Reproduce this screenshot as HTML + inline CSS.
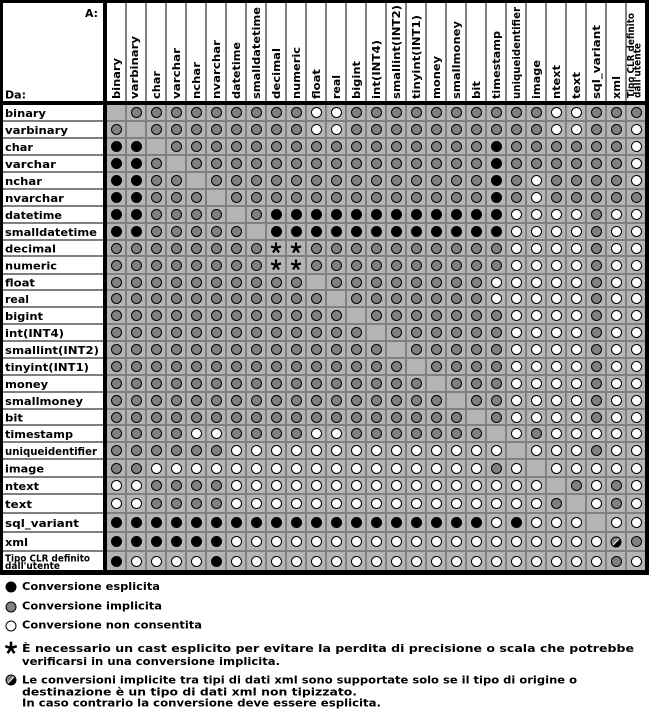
<!DOCTYPE html>
<html><head><meta charset="utf-8">
<style>
html,body{margin:0;padding:0;background:#fff;}
#p{position:relative;width:649px;height:710px;overflow:hidden;background:#fff;}
.k{position:absolute;background:#000;}
.hl{position:absolute;top:3px;width:2px;height:98px;background:#808080;}
#g{position:absolute;left:3px;top:105px;width:642px;height:465px;background:#808080;}
.r{position:absolute;left:0;width:642px;display:flex;}
.r>*{flex:none;width:18px;height:100%;background:#b4b4b4;margin-right:2px;display:flex;align-items:center;justify-content:center;text-decoration:none;font-style:normal;}
.r>:last-child{margin-right:0;}
.r>em{width:100px;background:#fff;margin-right:0;}
.r>tt{width:4px;background:#000;margin-right:0;}
.r>i::after,.r>b::after,.r>s::after{content:"";display:block;width:11px;height:11px;box-sizing:border-box;border:1px solid #000;border-radius:50%;}
.r>i::after{background:#808080;}
.r>b::after{background:#000;}
.r>s::after{background:#fff;}
svg text{font-family:"DejaVu Sans","Liberation Sans",sans-serif;font-weight:bold;font-size:11px;fill:#000;}
</style></head><body>
<div id="p">
<svg width="0" height="0" style="position:absolute;left:0;top:0">
<defs>
<g id="st"><path d="M0,0V-5.5M0,0L5,-1.6M0,0L3,4.5M0,0L-3,4.5M0,0L-5,-1.6" stroke="#000" stroke-width="2.2" fill="none"/><circle r="1.8" fill="#000"/></g>
<g id="hf"><circle r="5" fill="#808080"/><path d="M3.54,-3.54A5,5 0 0 1 -3.54,3.54Z" fill="#000"/><path d="M-3.6,3.6L3.6,-3.6" stroke="#fff" stroke-width="1"/><circle r="5" fill="none" stroke="#000" stroke-width="1"/></g>
</defs>
</svg>

<div class="hl" style="left:125px"></div><div class="hl" style="left:145px"></div><div class="hl" style="left:165px"></div><div class="hl" style="left:185px"></div><div class="hl" style="left:205px"></div><div class="hl" style="left:225px"></div><div class="hl" style="left:245px"></div><div class="hl" style="left:265px"></div><div class="hl" style="left:285px"></div><div class="hl" style="left:305px"></div><div class="hl" style="left:325px"></div><div class="hl" style="left:345px"></div><div class="hl" style="left:365px"></div><div class="hl" style="left:385px"></div><div class="hl" style="left:405px"></div><div class="hl" style="left:425px"></div><div class="hl" style="left:445px"></div><div class="hl" style="left:465px"></div><div class="hl" style="left:485px"></div><div class="hl" style="left:505px"></div><div class="hl" style="left:525px"></div><div class="hl" style="left:545px"></div><div class="hl" style="left:565px"></div><div class="hl" style="left:585px"></div><div class="hl" style="left:605px"></div><div class="hl" style="left:625px"></div>

<div id="g">
<div class="r" style="top:0px;height:15px"><em></em><tt></tt><u></u><i></i><i></i><i></i><i></i><i></i><i></i><i></i><i></i><i></i><s></s><s></s><i></i><i></i><i></i><i></i><i></i><i></i><i></i><i></i><i></i><i></i><s></s><s></s><i></i><i></i><i></i></div>
<div class="r" style="top:17px;height:15px"><em></em><tt></tt><i></i><u></u><i></i><i></i><i></i><i></i><i></i><i></i><i></i><i></i><s></s><s></s><i></i><i></i><i></i><i></i><i></i><i></i><i></i><i></i><i></i><i></i><s></s><s></s><i></i><i></i><s></s></div>
<div class="r" style="top:34px;height:15px"><em></em><tt></tt><b></b><b></b><u></u><i></i><i></i><i></i><i></i><i></i><i></i><i></i><i></i><i></i><i></i><i></i><i></i><i></i><i></i><i></i><i></i><b></b><i></i><i></i><i></i><i></i><i></i><i></i><s></s></div>
<div class="r" style="top:51px;height:15px"><em></em><tt></tt><b></b><b></b><i></i><u></u><i></i><i></i><i></i><i></i><i></i><i></i><i></i><i></i><i></i><i></i><i></i><i></i><i></i><i></i><i></i><b></b><i></i><i></i><i></i><i></i><i></i><i></i><s></s></div>
<div class="r" style="top:68px;height:15px"><em></em><tt></tt><b></b><b></b><i></i><i></i><u></u><i></i><i></i><i></i><i></i><i></i><i></i><i></i><i></i><i></i><i></i><i></i><i></i><i></i><i></i><b></b><i></i><s></s><i></i><i></i><i></i><i></i><s></s></div>
<div class="r" style="top:85px;height:15px"><em></em><tt></tt><b></b><b></b><i></i><i></i><i></i><u></u><i></i><i></i><i></i><i></i><i></i><i></i><i></i><i></i><i></i><i></i><i></i><i></i><i></i><b></b><i></i><s></s><i></i><i></i><i></i><i></i><i></i></div>
<div class="r" style="top:102px;height:15px"><em></em><tt></tt><b></b><b></b><i></i><i></i><i></i><i></i><u></u><i></i><b></b><b></b><b></b><b></b><b></b><b></b><b></b><b></b><b></b><b></b><b></b><b></b><s></s><s></s><s></s><s></s><i></i><s></s><s></s></div>
<div class="r" style="top:119px;height:15px"><em></em><tt></tt><b></b><b></b><i></i><i></i><i></i><i></i><i></i><u></u><b></b><b></b><b></b><b></b><b></b><b></b><b></b><b></b><b></b><b></b><b></b><b></b><s></s><s></s><s></s><s></s><i></i><s></s><s></s></div>
<div class="r" style="top:136px;height:14px"><em></em><tt></tt><i></i><i></i><i></i><i></i><i></i><i></i><i></i><i></i><u><svg width="12" height="12" viewBox="-6 -6 12 12"><use href="#st"/></svg></u><u><svg width="12" height="12" viewBox="-6 -6 12 12"><use href="#st"/></svg></u><i></i><i></i><i></i><i></i><i></i><i></i><i></i><i></i><i></i><i></i><s></s><s></s><s></s><s></s><i></i><s></s><s></s></div>
<div class="r" style="top:152px;height:16px"><em></em><tt></tt><i></i><i></i><i></i><i></i><i></i><i></i><i></i><i></i><u><svg width="12" height="12" viewBox="-6 -6 12 12"><use href="#st"/></svg></u><u><svg width="12" height="12" viewBox="-6 -6 12 12"><use href="#st"/></svg></u><i></i><i></i><i></i><i></i><i></i><i></i><i></i><i></i><i></i><i></i><s></s><s></s><s></s><s></s><i></i><s></s><s></s></div>
<div class="r" style="top:170px;height:14px"><em></em><tt></tt><i></i><i></i><i></i><i></i><i></i><i></i><i></i><i></i><i></i><i></i><u></u><i></i><i></i><i></i><i></i><i></i><i></i><i></i><i></i><s></s><s></s><s></s><s></s><s></s><i></i><s></s><s></s></div>
<div class="r" style="top:186px;height:15px"><em></em><tt></tt><i></i><i></i><i></i><i></i><i></i><i></i><i></i><i></i><i></i><i></i><i></i><u></u><i></i><i></i><i></i><i></i><i></i><i></i><i></i><s></s><s></s><s></s><s></s><s></s><i></i><s></s><s></s></div>
<div class="r" style="top:203px;height:15px"><em></em><tt></tt><i></i><i></i><i></i><i></i><i></i><i></i><i></i><i></i><i></i><i></i><i></i><i></i><u></u><i></i><i></i><i></i><i></i><i></i><i></i><i></i><s></s><s></s><s></s><s></s><i></i><s></s><s></s></div>
<div class="r" style="top:220px;height:15px"><em></em><tt></tt><i></i><i></i><i></i><i></i><i></i><i></i><i></i><i></i><i></i><i></i><i></i><i></i><i></i><u></u><i></i><i></i><i></i><i></i><i></i><i></i><s></s><s></s><s></s><s></s><i></i><s></s><s></s></div>
<div class="r" style="top:237px;height:15px"><em></em><tt></tt><i></i><i></i><i></i><i></i><i></i><i></i><i></i><i></i><i></i><i></i><i></i><i></i><i></i><i></i><u></u><i></i><i></i><i></i><i></i><i></i><s></s><s></s><s></s><s></s><i></i><s></s><s></s></div>
<div class="r" style="top:254px;height:15px"><em></em><tt></tt><i></i><i></i><i></i><i></i><i></i><i></i><i></i><i></i><i></i><i></i><i></i><i></i><i></i><i></i><i></i><u></u><i></i><i></i><i></i><i></i><s></s><s></s><s></s><s></s><i></i><s></s><s></s></div>
<div class="r" style="top:271px;height:15px"><em></em><tt></tt><i></i><i></i><i></i><i></i><i></i><i></i><i></i><i></i><i></i><i></i><i></i><i></i><i></i><i></i><i></i><i></i><u></u><i></i><i></i><i></i><s></s><s></s><s></s><s></s><i></i><s></s><s></s></div>
<div class="r" style="top:288px;height:15px"><em></em><tt></tt><i></i><i></i><i></i><i></i><i></i><i></i><i></i><i></i><i></i><i></i><i></i><i></i><i></i><i></i><i></i><i></i><i></i><u></u><i></i><i></i><s></s><s></s><s></s><s></s><i></i><s></s><s></s></div>
<div class="r" style="top:305px;height:14px"><em></em><tt></tt><i></i><i></i><i></i><i></i><i></i><i></i><i></i><i></i><i></i><i></i><i></i><i></i><i></i><i></i><i></i><i></i><i></i><i></i><u></u><i></i><s></s><s></s><s></s><s></s><i></i><s></s><s></s></div>
<div class="r" style="top:321px;height:15px"><em></em><tt></tt><i></i><i></i><i></i><i></i><s></s><s></s><i></i><i></i><i></i><i></i><s></s><s></s><i></i><i></i><i></i><i></i><i></i><i></i><i></i><u></u><s></s><i></i><s></s><s></s><s></s><s></s><s></s></div>
<div class="r" style="top:338px;height:15px"><em></em><tt></tt><i></i><i></i><i></i><i></i><i></i><i></i><s></s><s></s><s></s><s></s><s></s><s></s><s></s><s></s><s></s><s></s><s></s><s></s><s></s><s></s><u></u><s></s><s></s><s></s><i></i><s></s><s></s></div>
<div class="r" style="top:355px;height:16px"><em></em><tt></tt><i></i><i></i><s></s><s></s><s></s><s></s><s></s><s></s><s></s><s></s><s></s><s></s><s></s><s></s><s></s><s></s><s></s><s></s><s></s><i></i><s></s><u></u><s></s><s></s><s></s><s></s><s></s></div>
<div class="r" style="top:373px;height:15px"><em></em><tt></tt><s></s><s></s><i></i><i></i><i></i><i></i><s></s><s></s><s></s><s></s><s></s><s></s><s></s><s></s><s></s><s></s><s></s><s></s><s></s><s></s><s></s><s></s><u></u><i></i><s></s><i></i><s></s></div>
<div class="r" style="top:390px;height:17px"><em></em><tt></tt><s></s><s></s><i></i><i></i><i></i><i></i><s></s><s></s><s></s><s></s><s></s><s></s><s></s><s></s><s></s><s></s><s></s><s></s><s></s><s></s><s></s><s></s><i></i><u></u><s></s><i></i><s></s></div>
<div class="r" style="top:409px;height:17px"><em></em><tt></tt><b></b><b></b><b></b><b></b><b></b><b></b><b></b><b></b><b></b><b></b><b></b><b></b><b></b><b></b><b></b><b></b><b></b><b></b><b></b><s></s><b></b><s></s><s></s><s></s><u></u><s></s><s></s></div>
<div class="r" style="top:428px;height:17px"><em></em><tt></tt><b></b><b></b><b></b><b></b><b></b><b></b><s></s><s></s><s></s><s></s><s></s><s></s><s></s><s></s><s></s><s></s><s></s><s></s><s></s><s></s><s></s><s></s><s></s><s></s><s></s><u><svg width="12" height="12" viewBox="-6 -6 12 12"><use href="#hf"/></svg></u><i></i></div>
<div class="r" style="top:447px;height:18px"><em></em><tt></tt><b></b><s></s><s></s><s></s><s></s><b></b><s></s><s></s><s></s><s></s><s></s><s></s><s></s><s></s><s></s><s></s><s></s><s></s><s></s><s></s><s></s><s></s><s></s><s></s><s></s><i></i><s></s></div>
</div>

<div class="k" style="left:0;top:0;width:649px;height:3px"></div>
<div class="k" style="left:0;top:0;width:3px;height:575px"></div>
<div class="k" style="left:645px;top:0;width:4px;height:575px"></div>
<div class="k" style="left:0;top:570px;width:649px;height:5px"></div>
<div class="k" style="left:103px;top:0;width:4px;height:575px"></div>
<div class="k" style="left:0;top:101px;width:649px;height:4px"></div>

<svg width="649" height="710" style="position:absolute;left:0;top:0">
<text x="85" y="17" textLength="13" lengthAdjust="spacingAndGlyphs">A:</text>
<text x="5" y="98.5" textLength="21" lengthAdjust="spacingAndGlyphs">Da:</text>

<g lengthAdjust="spacingAndGlyphs">
<text transform="translate(120,99) rotate(-90)" textLength="41" lengthAdjust="spacingAndGlyphs">binary</text>
<text transform="translate(138,99) rotate(-90)" textLength="63" lengthAdjust="spacingAndGlyphs">varbinary</text>
<text transform="translate(160,99) rotate(-90)" textLength="28" lengthAdjust="spacingAndGlyphs">char</text>
<text transform="translate(180,99) rotate(-90)" textLength="51" lengthAdjust="spacingAndGlyphs">varchar</text>
<text transform="translate(200,99) rotate(-90)" textLength="37" lengthAdjust="spacingAndGlyphs">nchar</text>
<text transform="translate(220,99) rotate(-90)" textLength="59" lengthAdjust="spacingAndGlyphs">nvarchar</text>
<text transform="translate(240,99) rotate(-90)" textLength="57" lengthAdjust="spacingAndGlyphs">datetime</text>
<text transform="translate(260,99) rotate(-90)" textLength="92" lengthAdjust="spacingAndGlyphs">smalldatetime</text>
<text transform="translate(280,99) rotate(-90)" textLength="51" lengthAdjust="spacingAndGlyphs">decimal</text>
<text transform="translate(300,99) rotate(-90)" textLength="52" lengthAdjust="spacingAndGlyphs">numeric</text>
<text transform="translate(320,99) rotate(-90)" textLength="30" lengthAdjust="spacingAndGlyphs">float</text>
<text transform="translate(340,99) rotate(-90)" textLength="24" lengthAdjust="spacingAndGlyphs">real</text>
<text transform="translate(360,99) rotate(-90)" textLength="38" lengthAdjust="spacingAndGlyphs">bigint</text>
<text transform="translate(380,99) rotate(-90)" textLength="59" lengthAdjust="spacingAndGlyphs">int(INT4)</text>
<text transform="translate(400,99) rotate(-90)" textLength="94" lengthAdjust="spacingAndGlyphs">smallint(INT2)</text>
<text transform="translate(420,99) rotate(-90)" textLength="84" lengthAdjust="spacingAndGlyphs">tinyint(INT1)</text>
<text transform="translate(440,99) rotate(-90)" textLength="43" lengthAdjust="spacingAndGlyphs">money</text>
<text transform="translate(460,99) rotate(-90)" textLength="78" lengthAdjust="spacingAndGlyphs">smallmoney</text>
<text transform="translate(480,99) rotate(-90)" textLength="18" lengthAdjust="spacingAndGlyphs">bit</text>
<text transform="translate(500,99) rotate(-90)" textLength="68" lengthAdjust="spacingAndGlyphs">timestamp</text>
<text transform="translate(520,99) rotate(-90)" textLength="92" lengthAdjust="spacingAndGlyphs">uniqueidentifier</text>
<text transform="translate(540,99) rotate(-90)" textLength="39" lengthAdjust="spacingAndGlyphs">image</text>
<text transform="translate(560,99) rotate(-90)" textLength="34" lengthAdjust="spacingAndGlyphs">ntext</text>
<text transform="translate(580,99) rotate(-90)" textLength="27" lengthAdjust="spacingAndGlyphs">text</text>
<text transform="translate(600,99) rotate(-90)" textLength="74" lengthAdjust="spacingAndGlyphs">sql_variant</text>
<text transform="translate(620,99) rotate(-90)" textLength="23" lengthAdjust="spacingAndGlyphs">xml</text>
<text transform="translate(634,98) rotate(-90)" textLength="85" lengthAdjust="spacingAndGlyphs" style="font-size:9.5px">Tipo CLR definito</text>
<text transform="translate(640.5,98) rotate(-90)" textLength="55" lengthAdjust="spacingAndGlyphs" style="font-size:9.5px">dall'utente</text>
</g>

<text x="5" y="117" textLength="41" lengthAdjust="spacingAndGlyphs">binary</text>
<text x="5" y="134" textLength="63" lengthAdjust="spacingAndGlyphs">varbinary</text>
<text x="5" y="151" textLength="28" lengthAdjust="spacingAndGlyphs">char</text>
<text x="5" y="168" textLength="51" lengthAdjust="spacingAndGlyphs">varchar</text>
<text x="5" y="185" textLength="37" lengthAdjust="spacingAndGlyphs">nchar</text>
<text x="5" y="202" textLength="59" lengthAdjust="spacingAndGlyphs">nvarchar</text>
<text x="5" y="219" textLength="57" lengthAdjust="spacingAndGlyphs">datetime</text>
<text x="5" y="236" textLength="92" lengthAdjust="spacingAndGlyphs">smalldatetime</text>
<text x="5" y="252.5" textLength="51" lengthAdjust="spacingAndGlyphs">decimal</text>
<text x="5" y="269.5" textLength="52" lengthAdjust="spacingAndGlyphs">numeric</text>
<text x="5" y="286.5" textLength="30" lengthAdjust="spacingAndGlyphs">float</text>
<text x="5" y="303" textLength="24" lengthAdjust="spacingAndGlyphs">real</text>
<text x="5" y="320" textLength="38" lengthAdjust="spacingAndGlyphs">bigint</text>
<text x="5" y="337" textLength="59" lengthAdjust="spacingAndGlyphs">int(INT4)</text>
<text x="5" y="354" textLength="94" lengthAdjust="spacingAndGlyphs">smallint(INT2)</text>
<text x="5" y="371" textLength="84" lengthAdjust="spacingAndGlyphs">tinyint(INT1)</text>
<text x="5" y="388" textLength="43" lengthAdjust="spacingAndGlyphs">money</text>
<text x="5" y="405" textLength="78" lengthAdjust="spacingAndGlyphs">smallmoney</text>
<text x="5" y="421.5" textLength="18" lengthAdjust="spacingAndGlyphs">bit</text>
<text x="5" y="438" textLength="68" lengthAdjust="spacingAndGlyphs">timestamp</text>
<text x="5" y="455" textLength="92" lengthAdjust="spacingAndGlyphs">uniqueidentifier</text>
<text x="5" y="472.5" textLength="39" lengthAdjust="spacingAndGlyphs">image</text>
<text x="5" y="490" textLength="34" lengthAdjust="spacingAndGlyphs">ntext</text>
<text x="5" y="508" textLength="27" lengthAdjust="spacingAndGlyphs">text</text>
<text x="5" y="527" textLength="74" lengthAdjust="spacingAndGlyphs">sql_variant</text>
<text x="5" y="546" textLength="23" lengthAdjust="spacingAndGlyphs">xml</text>
<text x="5" y="561.5" textLength="85" lengthAdjust="spacingAndGlyphs" style="font-size:9.5px">Tipo CLR definito</text>
<text x="5" y="569" textLength="55" lengthAdjust="spacingAndGlyphs" style="font-size:9.5px">dall'utente</text>

<circle cx="11" cy="587" r="5.5" fill="#000"/>
<circle cx="11" cy="607" r="5" fill="#808080" stroke="#000" stroke-width="1"/>
<circle cx="11" cy="626" r="5" fill="#fff" stroke="#000" stroke-width="1"/>
<use href="#st" transform="translate(11,648) scale(1.15)"/>
<use href="#hf" transform="translate(11,680)"/>

<g style="font-size:10.5px">
<text x="22" y="590" textLength="138" lengthAdjust="spacingAndGlyphs" style="font-size:10.5px">Conversione esplicita</text>
<text x="22" y="609.5" textLength="140" lengthAdjust="spacingAndGlyphs" style="font-size:10.5px">Conversione implicita</text>
<text x="22" y="628.5" textLength="180" lengthAdjust="spacingAndGlyphs" style="font-size:10.5px">Conversione non consentita</text>
<text x="22" y="652" textLength="612" lengthAdjust="spacingAndGlyphs" style="font-size:10.5px">È necessario un cast esplicito per evitare la perdita di precisione o scala che potrebbe</text>
<text x="22" y="665" textLength="258" lengthAdjust="spacingAndGlyphs" style="font-size:10.5px">verificarsi in una conversione implicita.</text>
<text x="22" y="683.5" textLength="555" lengthAdjust="spacingAndGlyphs" style="font-size:10.5px">Le conversioni implicite tra tipi di dati xml sono supportate solo se il tipo di origine o</text>
<text x="22" y="695.5" textLength="335" lengthAdjust="spacingAndGlyphs" style="font-size:10.5px">destinazione è un tipo di dati xml non tipizzato.</text>
<text x="22" y="706.5" textLength="359" lengthAdjust="spacingAndGlyphs" style="font-size:10.5px">In caso contrario la conversione deve essere esplicita.</text>
</g>
</svg>
</div>
</body></html>
